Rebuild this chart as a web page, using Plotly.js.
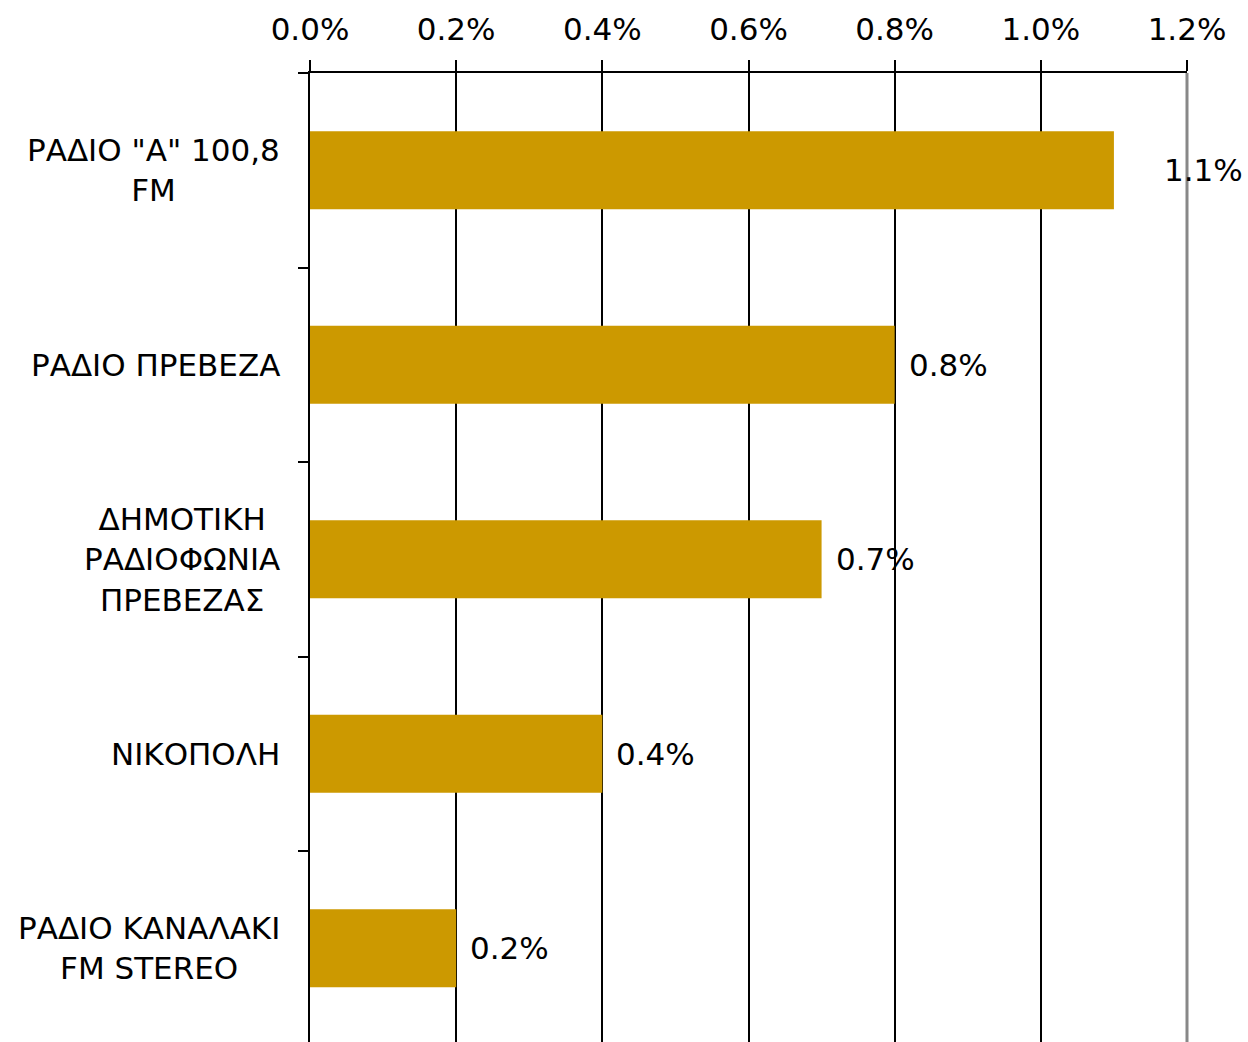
<!DOCTYPE html>
<html>
<head>
<meta charset="utf-8">
<script src="https://cdn.plot.ly/plotly-3.0.1.min.js"></script>
<style>html,body{margin:0;padding:0;background:#fff;}#chart{width:1248px;height:1042px;}</style>
</head>
<body>
<div id="chart"></div>
<script>
const categories = ['ΡΑΔΙΟ "Α" 100,8 FM', 'ΡΑΔΙΟ ΠΡΕΒΕΖΑ', 'ΔΗΜΟΤΙΚΗ ΡΑΔΙΟΦΩΝΙΑ ΠΡΕΒΕΖΑΣ', 'ΝΙΚΟΠΟΛΗ', 'ΡΑΔΙΟ ΚΑΝΑΛΑΚΙ FM STEREO'];
const categoryLabels = ['ΡΑΔΙΟ "Α" 100,8<br>FM', 'ΡΑΔΙΟ ΠΡΕΒΕΖΑ', 'ΔΗΜΟΤΙΚΗ<br>ΡΑΔΙΟΦΩΝΙΑ<br>ΠΡΕΒΕΖΑΣ', 'ΝΙΚΟΠΟΛΗ', 'ΡΑΔΙΟ ΚΑΝΑΛΑΚΙ<br>FM STEREO'];
const values = [0.011, 0.008, 0.007, 0.004, 0.002];
const valueLabels = ['1.1%', '0.8%', '0.7%', '0.4%', '0.2%'];
const tickVals = [0, 0.002, 0.004, 0.006, 0.008, 0.010, 0.012];
const tickText = ['0.0%', '0.2%', '0.4%', '0.6%', '0.8%', '1.0%', '1.2%'];
const labelShift = [48, 12, 12, 12, 12];

const FONT = '"DejaVu Sans", Verdana, sans-serif';
const FS = 31;

const trace = {
  type: 'bar',
  orientation: 'h',
  x: values,
  y: categories,
  marker: {color: '#CC9900', line: {width: 0}},
  hoverinfo: 'skip'
};

const annotations = [];
categories.forEach((c, i) => {
  annotations.push({
    x: values[i], y: c, xref: 'x', yref: 'y',
    text: valueLabels[i], showarrow: false,
    xanchor: 'left', yanchor: 'middle', xshift: labelShift[i],
    font: {family: FONT, size: FS, color: '#000'}
  });
  annotations.push({
    x: 0, y: c, xref: 'paper', yref: 'y',
    text: categoryLabels[i], showarrow: false,
    xanchor: 'right', yanchor: 'middle', align: 'center', xshift: -28,
    font: {family: FONT, size: FS, color: '#000'}
  });
});

const layout = {
  width: 1248, height: 1042,
  margin: {l: 310, r: 61, t: 73, b: 0, pad: 0},
  paper_bgcolor: '#fff', plot_bgcolor: '#fff',
  bargap: 0.6,
  showlegend: false,
  font: {family: FONT, size: FS, color: '#000'},
  xaxis: {
    side: 'top',
    range: [0, 0.012],
    tickvals: tickVals, ticktext: tickText,
    ticks: 'outside', ticklen: 11, tickwidth: 2, tickcolor: '#000',
    ticklabelstandoff: 8,
    showline: true, linecolor: '#000', linewidth: 2,
    showgrid: true, gridcolor: '#000', gridwidth: 2,
    zeroline: false,
    tickfont: {family: FONT, size: FS, color: '#000'},
    fixedrange: true
  },
  yaxis: {
    type: 'category',
    categoryorder: 'array', categoryarray: categories,
    range: [4.482, -0.5],
    tickson: 'boundaries',
    ticks: 'outside', ticklen: 10, tickwidth: 2, tickcolor: '#000',
    showticklabels: false,
    showline: true, linecolor: '#000', linewidth: 2,
    showgrid: false, zeroline: false,
    fixedrange: true
  },
  shapes: [{
    type: 'line', xref: 'paper', yref: 'paper',
    x0: 1, x1: 1, y0: 0, y1: 1,
    line: {color: '#888888', width: 3}
  }],
  annotations: annotations
};

Plotly.newPlot('chart', [trace], layout, {displayModeBar: false, staticPlot: true});
</script>
</body>
</html>
